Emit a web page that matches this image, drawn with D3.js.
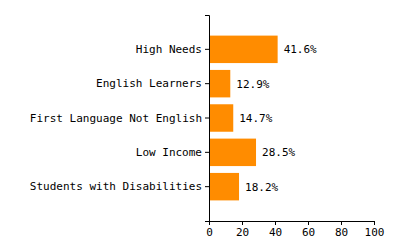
<!DOCTYPE html>
<html>
<head>
<meta charset="utf-8">
<script src="https://cdn.jsdelivr.net/npm/d3@7"></script>
<style>
  body { margin: 0; background: #fff; }
  svg text { font-family: "DejaVu Sans Mono", monospace; font-size: 11px; fill: #000; }
</style>
</head>
<body>
<svg id="chart" width="400" height="250"></svg>
<script>
// groups and their share (%)
const categories = ["High Needs", "English Learners", "First Language Not English", "Low Income", "Students with Disabilities"];
const percents = [41.6, 12.9, 14.7, 28.5, 18.2];
const xTicks = [0, 20, 40, 60, 80, 100];

const margin = {top: 15, left: 209, right: 26, bottom: 29};
const width = 400 - margin.left - margin.right;
const height = 250 - margin.top - margin.bottom;

const svg = d3.select("#chart");
const g = svg.append("g").attr("transform", `translate(${margin.left},${margin.top})`);

const x = d3.scaleLinear().domain([0, 100]).range([0, width]);
const y = d3.scaleBand().domain(categories).range([0, height]).paddingInner(0.2).paddingOuter(0.6);

const rows = categories.map((c, i) => ({name: c, value: percents[i]}));

g.selectAll(".bar")
  .data(rows)
  .enter()
  .append("rect")
  .attr("class", "bar")
  .attr("x", 0)
  .attr("y", d => y(d.name))
  .attr("width", d => x(d.value))
  .attr("height", y.bandwidth())
  .attr("fill", "#ff8c00");

g.selectAll(".val")
  .data(rows)
  .enter()
  .append("text")
  .attr("class", "val")
  .attr("x", d => x(d.value) + 6)
  .attr("y", d => y(d.name) + y.bandwidth() / 2)
  .attr("dy", "0.35em")
  .text(d => d.value.toFixed(1) + "%");

const yAxis = g.append("g")
  .call(d3.axisLeft(y).tickSize(4).tickPadding(3));

const xAxis = g.append("g")
  .attr("transform", `translate(0,${height})`)
  .call(d3.axisBottom(x).tickValues(xTicks).tickSize(4).tickPadding(3));

[yAxis, xAxis].forEach(a => {
  a.attr("font-family", null).attr("font-size", null);
  a.selectAll("path, line").attr("stroke", "#000");
});
</script>
</body>
</html>
